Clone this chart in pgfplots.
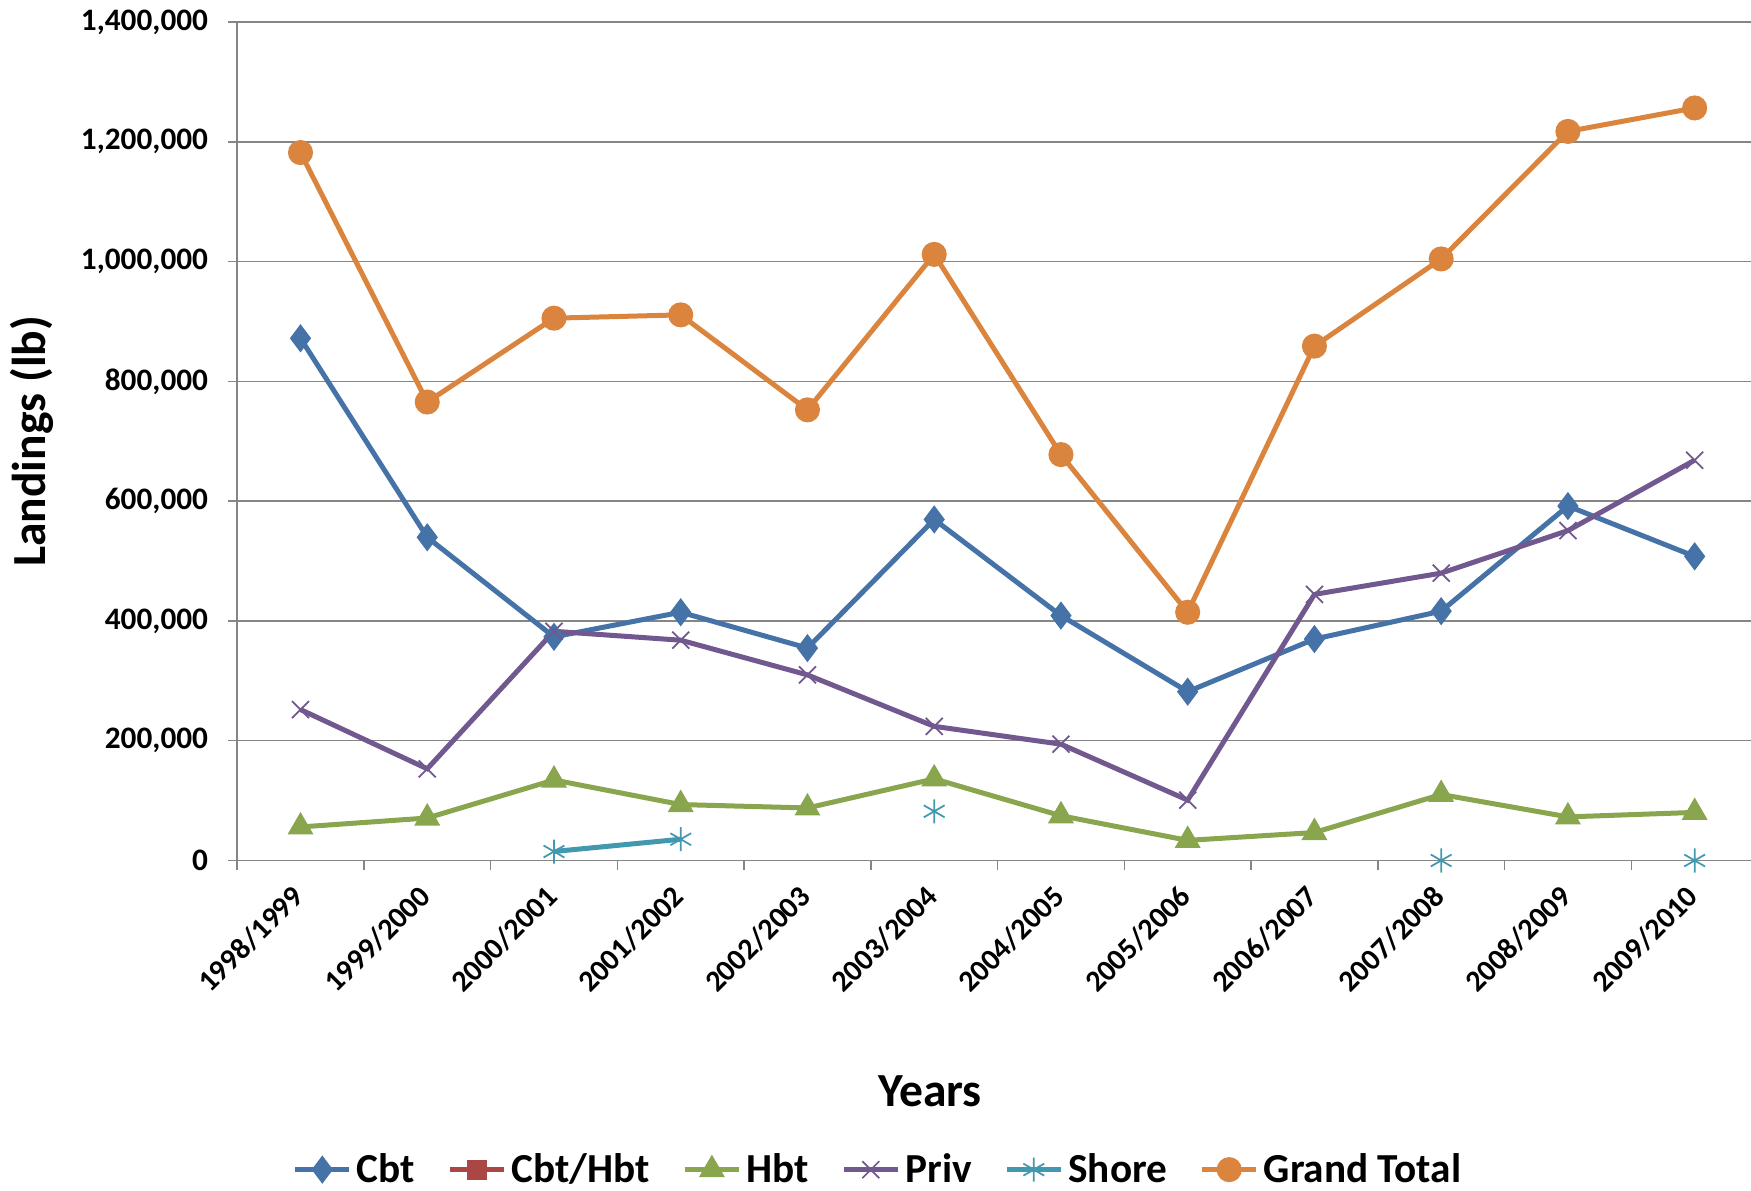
\documentclass[border=0pt]{standalone}
\usepackage{pgfplots}
\pgfplotsset{compat=1.18}
\usepackage{fontspec}
\setmainfont{Carlito}

\definecolor{cbt}{HTML}{4572A7}
\definecolor{cbthbt}{HTML}{AA4643}
\definecolor{hbt}{HTML}{89A54E}
\definecolor{priv}{HTML}{71588F}
\definecolor{shore}{HTML}{4198AF}
\definecolor{gtot}{HTML}{DB843D}
\definecolor{axgray}{HTML}{868686}

\begin{document}
\begin{tikzpicture}
\begin{axis}[
    name=ax,
    scale only axis,
    width=608pt, height=335.2pt,
    xmin=0.5, xmax=12.5,
    ymin=0, ymax=1400000,
    clip=false,
    axis x line*=bottom, axis y line*=left,
    axis line style={draw=axgray, line width=0.6pt},
    xtick={1,...,12},
    xticklabels={1998/1999,1999/2000,2000/2001,2001/2002,2002/2003,2003/2004,2004/2005,2005/2006,2006/2007,2007/2008,2008/2009,2009/2010},
    minor xtick={0.5,1.5,...,12.5},
    major x tick style={draw=none},
    ytick={0,200000,...,1400000},
    scaled y ticks=false,
    yticklabel style={/pgf/number format/.cd, fixed, 1000 sep={,}, assume math mode=true, /tikz/.cd, xshift=-4.5pt},
    tick align=outside,
    major tick length=3.6pt, minor tick length=3.6pt,
    every tick/.style={draw=axgray, line width=0.6pt},
    ymajorgrids,
    major grid style={draw=axgray, line width=0.6pt},
    tick label style={font=\bfseries\fontsize{12.5}{14}\selectfont},
    xticklabel style={rotate=45, anchor=east, inner sep=1pt, font=\bfseries\fontsize{12}{14}\selectfont},
    xticklabel shift=8pt,
    ylabel={Landings (lb)},
    ylabel style={at={(axis description cs:-0.1348,0.5)}, anchor=center, font=\bfseries\fontsize{19}{22}\selectfont},
    xlabel={Years},
    xlabel style={at={(axis description cs:0.4556,-0.2757)}, anchor=center, font=\bfseries\fontsize{19}{22}\selectfont},
    unbounded coords=jump,
    legend columns=6,
    legend style={draw=none, at={(0.4224,-0.3687)}, anchor=center,
        font=\bfseries\fontsize{16.5}{19}\selectfont,
        /tikz/every even column/.append style={column sep=11pt}},
    legend cell align=left,
    legend image code/.code={\draw[mark repeat=2,mark phase=2] plot coordinates {(0cm,0cm)(0.38cm,0cm)(0.76cm,0cm)};},
]
\addplot[cbt, line width=2pt, mark=diamond*, mark size=4pt, mark options={solid}]
coordinates {(1,871900)(2,539600)(3,373400)(4,414500)(5,354700)(6,569400)(7,408900)(8,281900)(9,369700)(10,416300)(11,591800)(12,507800)};
\addlegendentry{Cbt}
\addlegendimage{cbthbt, line width=2pt, mark=square*, mark size=3pt}
\addlegendentry{Cbt/Hbt}
\addplot[hbt, line width=2pt, mark=triangle*, mark size=4pt]
coordinates {(1,56000)(2,70900)(3,134400)(4,93400)(5,87700)(6,136300)(7,74700)(8,33600)(9,46700)(10,110200)(11,72800)(12,80300)};
\addlegendentry{Hbt}
\addplot[priv, line width=2pt, mark=x, mark size=4.8pt, mark options={line width=0.7pt}]
coordinates {(1,252000)(2,153100)(3,382700)(4,367800)(5,309900)(6,224000)(7,194200)(8,100800)(9,444300)(10,479800)(11,550800)(12,668400)};
\addlegendentry{Priv}
\addplot[shore, line width=2pt, mark=asterisk, mark size=4.8pt, mark options={line width=0.7pt}]
coordinates {(1,nan)(2,nan)(3,15000)(4,35500)(5,nan)(6,82100)(7,nan)(8,nan)(9,nan)(10,0)(11,nan)(12,0)};
\addlegendentry{Shore}
\addplot[gtot, line width=2pt, mark=*, mark size=4pt]
coordinates {(1,1182000)(2,765500)(3,905500)(4,911000)(5,752400)(6,1012000)(7,677700)(8,414500)(9,858800)(10,1004400)(11,1217300)(12,1256500)};
\addlegendentry{Grand Total}
\end{axis}
\pgfresetboundingbox
\path ([xshift=-94.8pt,yshift=-132pt]ax.south west) rectangle ++(700pt,476pt);
\end{tikzpicture}
\end{document}
